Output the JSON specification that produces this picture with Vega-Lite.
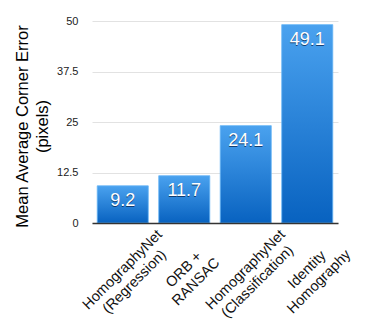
{
  "$schema": "https://vega.github.io/schema/vega-lite/v6.json",
  "width": 246,
  "height": 202,
  "autosize": "none",
  "padding": {"left": 92, "top": 21, "right": 36, "bottom": 104},
  "background": "white",
  "config": {"view": {"stroke": null}, "font": "Liberation Sans"},
  "data": {"values": [
    {"method": "HomographyNet|(Regression)", "error": 9.2},
    {"method": "ORB +|RANSAC", "error": 11.7},
    {"method": "HomographyNet|(Classification)", "error": 24.1},
    {"method": "Identity|Homography", "error": 49.1}
  ]},
  "encoding": {
    "x": {
      "field": "method", "type": "nominal", "sort": null,
      "scale": {"paddingInner": 0.17, "paddingOuter": 0.085},
      "axis": {
        "title": null, "labelAngle": -45, "labelAlign": "center", "labelBaseline": "middle",
        "labelPadding": 46.5, "labelFontSize": 14.5, "labelLineHeight": 17, "labelColor": "#111",
        "labelExpr": "split(datum.label, '|')", "ticks": false, "domainColor": "#333",
        "domainWidth": 1.5, "labelOverlap": false, "zindex": 1
      }
    },
    "y": {
      "field": "error", "type": "quantitative",
      "scale": {"domain": [0, 50], "nice": false},
      "axis": {
        "values": [0, 12.5, 25, 37.5, 50], "labelExpr": "'' + datum.value",
        "title": ["Mean Average Corner Error", "(pixels)"], "titleFontSize": 16.5,
        "titleFontWeight": "normal", "titleColor": "#000", "titleLineHeight": 20,
        "titleBaseline": "alphabetic", "titleX": -65, "titleY": 105, "titleAngle": -90,
        "labelFontSize": 11, "labelColor": "#222", "labelPadding": 14, "ticks": false,
        "domain": false, "gridColor": "#e2e2e2"
      }
    }
  },
  "layer": [
    {
      "mark": {
        "type": "bar",
        "color": {
          "gradient": "linear", "x1": 0, "y1": 0, "x2": 0, "y2": 1,
          "stops": [{"offset": 0, "color": "#4aa2ef"}, {"offset": 1, "color": "#0862c0"}]
        },
        "stroke": "#66b5f6", "strokeWidth": 0.8
      }
    },
    {
      "mark": {"type": "text", "color": "#0b2a55", "opacity": 0.8, "fontSize": 18, "baseline": "alphabetic", "dy": 21.5},
      "encoding": {"text": {"field": "error", "type": "quantitative", "format": ".1f"}}
    },
    {
      "mark": {"type": "text", "color": "white", "fontSize": 18, "baseline": "alphabetic", "dy": 20.5},
      "encoding": {"text": {"field": "error", "type": "quantitative", "format": ".1f"}}
    }
  ]
}
